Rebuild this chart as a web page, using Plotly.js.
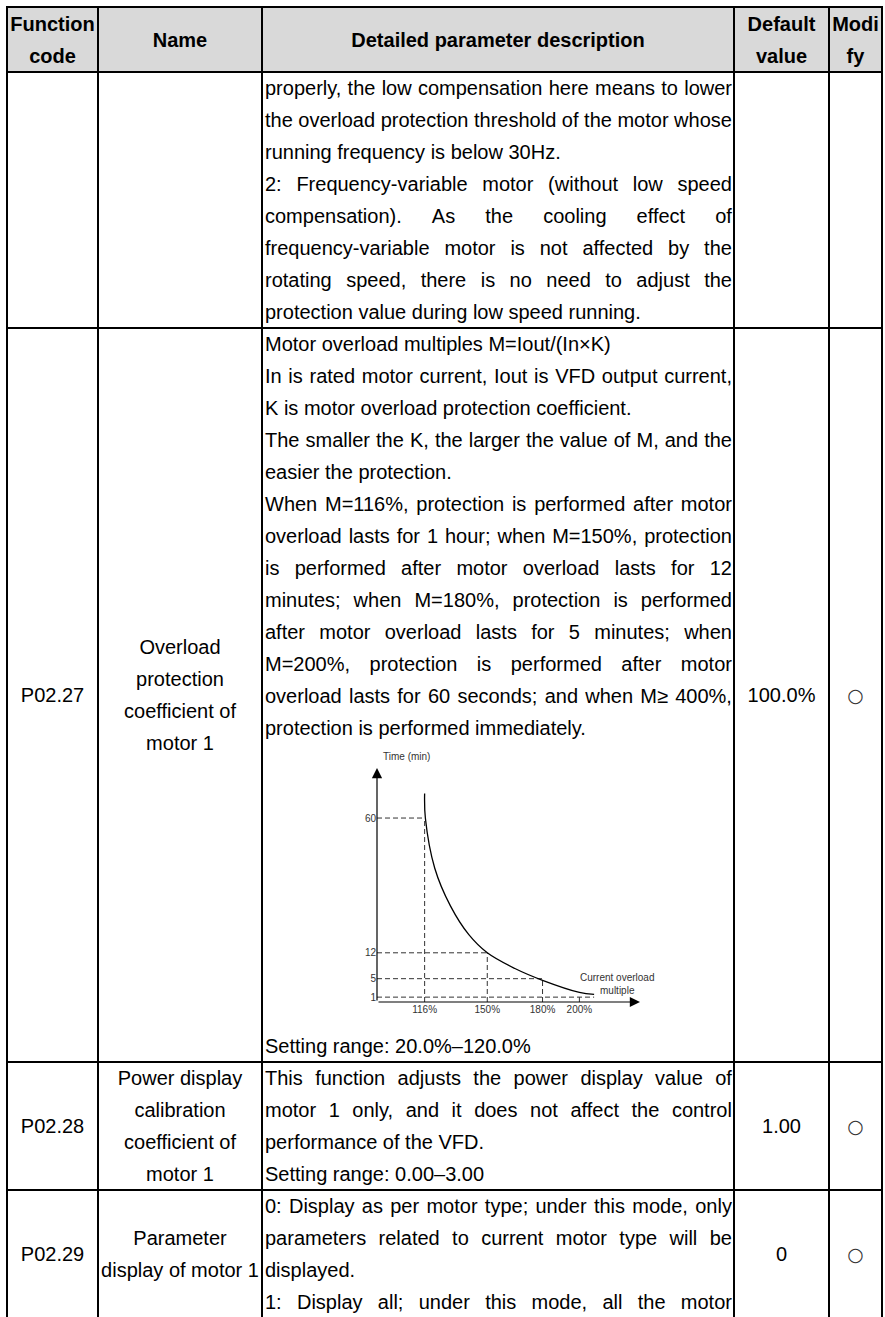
<!DOCTYPE html>
<html>
<head>
<meta charset="utf-8">
<script src="https://cdn.plot.ly/plotly-3.0.1.min.js"></script>
<style>
html,body{margin:0;padding:0;background:#fff;}
body{width:885px;height:1317px;overflow:hidden;position:relative;font-family:"Liberation Sans",Arial,sans-serif;font-size:20px;color:#000;}
.vl,.hl,.fill{position:absolute;background:#000;}
.cell{position:absolute;display:flex;flex-direction:column;justify-content:center;align-items:center;text-align:center;line-height:32px;white-space:nowrap;}
.hdr{font-weight:bold;}
.ln{position:absolute;height:32px;line-height:32px;white-space:nowrap;display:flex;}
.ln.j{justify-content:space-between;}
.mod{font-family:"DejaVu Sans",sans-serif;font-size:19px;color:#333;}
#chart{position:absolute;left:330px;top:744px;width:340px;height:286px;}
</style>
</head>
<body>
<div id="chart"></div>
<script>
// ---------- chart data ----------
const xTicks = [116, 150, 180, 200];
const xTickLabels = ['116%', '150%', '180%', '200%'];
const yTicks = [60, 12, 5, 1];
const yTickLabels = ['60', '12', '5', '1'];
const curveX = [116, 116.4, 121.5, 130, 140, 150, 165, 180, 200, 208];
const curveY = [70, 60, 40.5, 27, 17.5, 12, 7.6, 4.6, 1.9, 1.5];
const xRange = [90.15, 232.9];
const yRangeMin = [0.23, 80.8];          // time axis span, minutes

// schematic (non-uniform) time axis of the original drawing
const timeScale = v => Math.pow(v, 0.8);
const yRange = yRangeMin.map(timeScale);

// ---------- table text ----------
const headers = ['Function<br>code', 'Name', 'Detailed parameter description', 'Default<br>value', 'Modi<br>fy'];
const codes = ['', 'P02.27', 'P02.28', 'P02.29'];
const names = [[], ['Overload', 'protection', 'coefficient of', 'motor 1'], ['Power display', 'calibration', 'coefficient of', 'motor 1'], ['Parameter', 'display of motor 1']];
const defaults = ['', '100.0%', '1.00', '0'];
const modifies = ['', '○', '○', '○'];
const descs = [
  [['properly, the low compensation here means to lower', 1],
   ['the overload protection threshold of the motor whose', 1],
   ['running frequency is below 30Hz.', 0],
   ['2: Frequency-variable motor (without low speed', 1],
   ['compensation). As the cooling effect of', 1],
   ['frequency-variable motor is not affected by the', 1],
   ['rotating speed, there is no need to adjust the', 1],
   ['protection value during low speed running.', 0]],
  [['Motor overload multiples M=Iout/(In×K)', 0],
   ['In is rated motor current, Iout is VFD output current,', 1],
   ['K is motor overload protection coefficient.', 0],
   ['The smaller the K, the larger the value of M, and the', 1],
   ['easier the protection.', 0],
   ['When M=116%, protection is performed after motor', 1],
   ['overload lasts for 1 hour; when M=150%, protection', 1],
   ['is performed after motor overload lasts for 12', 1],
   ['minutes; when M=180%, protection is performed', 1],
   ['after motor overload lasts for 5 minutes; when', 1],
   ['M=200%, protection is performed after motor', 1],
   ['overload lasts for 60 seconds; and when M≥ 400%,', 1],
   ['protection is performed immediately.', 0],
   ['CHART', 0],
   ['Setting range: 20.0%–120.0%', 0]],
  [['This function adjusts the power display value of', 1],
   ['motor 1 only, and it does not affect the control', 1],
   ['performance of the VFD.', 0],
   ['Setting range: 0.00–3.00', 0]],
  [['0: Display as per motor type; under this mode, only', 1],
   ['parameters related to current motor type will be', 1],
   ['displayed.', 0],
   ['1: Display all; under this mode, all the motor', 1]]
];

// ---------- layout geometry ----------
const colX = [7, 98, 262, 734, 829, 882];
const rowY = [7, 72, 328, 1062, 1190, 1318];
const LINE = 32, CHART_H = 286, DESC_L = 265, DESC_W = 467;

function add(cls, st, html) {
  const d = document.createElement('div');
  if (cls) d.className = cls;
  Object.assign(d.style, st);
  if (html != null) d.innerHTML = html;
  document.body.appendChild(d);
  return d;
}
const px = v => v + 'px';

add('fill', {left: px(colX[0]), top: px(rowY[0]), width: px(colX[5] - colX[0]), height: px(rowY[1] - rowY[0]), background: '#d9d9d9'});

function cell(ci, top, bottom, html, cls) {
  return add('cell ' + (cls || ''), {left: px(colX[ci] + 1), width: px(colX[ci + 1] - colX[ci] - 2), top: px(top + 1), height: px(bottom - top - 2)}, html);
}
headers.forEach((h, i) => cell(i, rowY[0], rowY[1], h, 'hdr'));

for (let r = 0; r < 4; r++) {
  const top = rowY[r + 1], bottom = rowY[r + 2];
  if (codes[r]) cell(0, top, bottom, codes[r]);
  if (names[r].length) cell(1, top, bottom, names[r].join('<br>'));
  if (defaults[r]) cell(3, top, bottom, defaults[r]);
  if (modifies[r]) cell(4, top, bottom, '<span class="mod">' + modifies[r] + '</span>');
  let y = top;
  descs[r].forEach(([t, j]) => {
    if (t === 'CHART') { y += CHART_H; return; }
    const ln = add('ln' + (j ? ' j' : ''), {left: px(DESC_L), width: px(DESC_W), top: px(y)});
    if (j) {
      t.split(' ').forEach(w => { const s = document.createElement('span'); s.textContent = w; ln.appendChild(s); });
    } else {
      const s = document.createElement('span'); s.textContent = t; s.style.whiteSpace = 'pre'; ln.appendChild(s);
    }
    y += LINE;
  });
}

colX.forEach(c => add('vl', {left: px(c - 1), top: px(rowY[0] - 1), width: '2px', height: px(1317 - rowY[0] + 1)}));
rowY.forEach(r => add('hl', {left: px(colX[0] - 1), top: px(r - 1), height: '2px', width: px(colX[5] - colX[0] + 2)}));

// ---------- Plotly chart ----------
const gx = [], gy = [];
xTicks.forEach((xt, i) => {
  const yt = timeScale(yTicks[i]);
  gx.push(xt, xt, null); gy.push(yRange[0], yt, null);
  const hEnd = i === xTicks.length - 1 ? curveX[curveX.length - 1] : xt;
  gx.push(xRange[0], hEnd, null); gy.push(yt, yt, null);
});

const traces = [
  {x: gx, y: gy, mode: 'lines', line: {color: '#333', width: 1, dash: '5px,3px'}, hoverinfo: 'skip', cliponaxis: false},
  {x: curveX, y: curveY.map(timeScale), mode: 'lines', line: {color: '#000', width: 1.3, shape: 'spline', smoothing: 1}, hoverinfo: 'skip', cliponaxis: false}
];

const fontFam = '"Liberation Sans", Arial, sans-serif';
const lblFont = {size: 10, color: '#333', family: fontFam};
const layout = {
  width: 340, height: 286,
  margin: {l: 47, r: 30, t: 24, b: 28, pad: 0},
  paper_bgcolor: 'rgba(0,0,0,0)', plot_bgcolor: 'rgba(0,0,0,0)',
  showlegend: false,
  font: lblFont,
  xaxis: {range: xRange, tickvals: xTicks, ticktext: xTickLabels, showgrid: false, zeroline: false, showline: false, ticks: '', automargin: false, fixedrange: true, tickfont: lblFont},
  yaxis: {range: yRange, tickvals: yTicks.map(timeScale), ticktext: yTickLabels, showgrid: false, zeroline: false, showline: false, ticks: '', automargin: false, fixedrange: true, tickfont: lblFont},
  annotations: [
    {x: xRange[1], y: yRange[0], ax: xRange[0], ay: yRange[0], xref: 'x', yref: 'y', axref: 'x', ayref: 'y', showarrow: true, arrowhead: 2, arrowsize: 1.7, arrowwidth: 1.2, arrowcolor: '#000', standoff: 0, text: ''},
    {x: xRange[0], y: yRange[1], ax: xRange[0], ay: yRange[0], xref: 'x', yref: 'y', axref: 'x', ayref: 'y', showarrow: true, arrowhead: 2, arrowsize: 1.7, arrowwidth: 1.2, arrowcolor: '#000', standoff: 0, text: ''},
    {x: 0.113, y: 1.051, xref: 'paper', yref: 'paper', xanchor: 'center', yanchor: 'middle', showarrow: false, text: 'Time (min)', font: lblFont},
    {x: 0.9125, y: 0.075, xref: 'paper', yref: 'paper', xanchor: 'center', yanchor: 'middle', showarrow: false, text: 'Current overload<br>multiple', align: 'center', font: lblFont}
  ]
};
Plotly.newPlot('chart', traces, layout, {staticPlot: true, displayModeBar: false});
</script>
</body>
</html>
